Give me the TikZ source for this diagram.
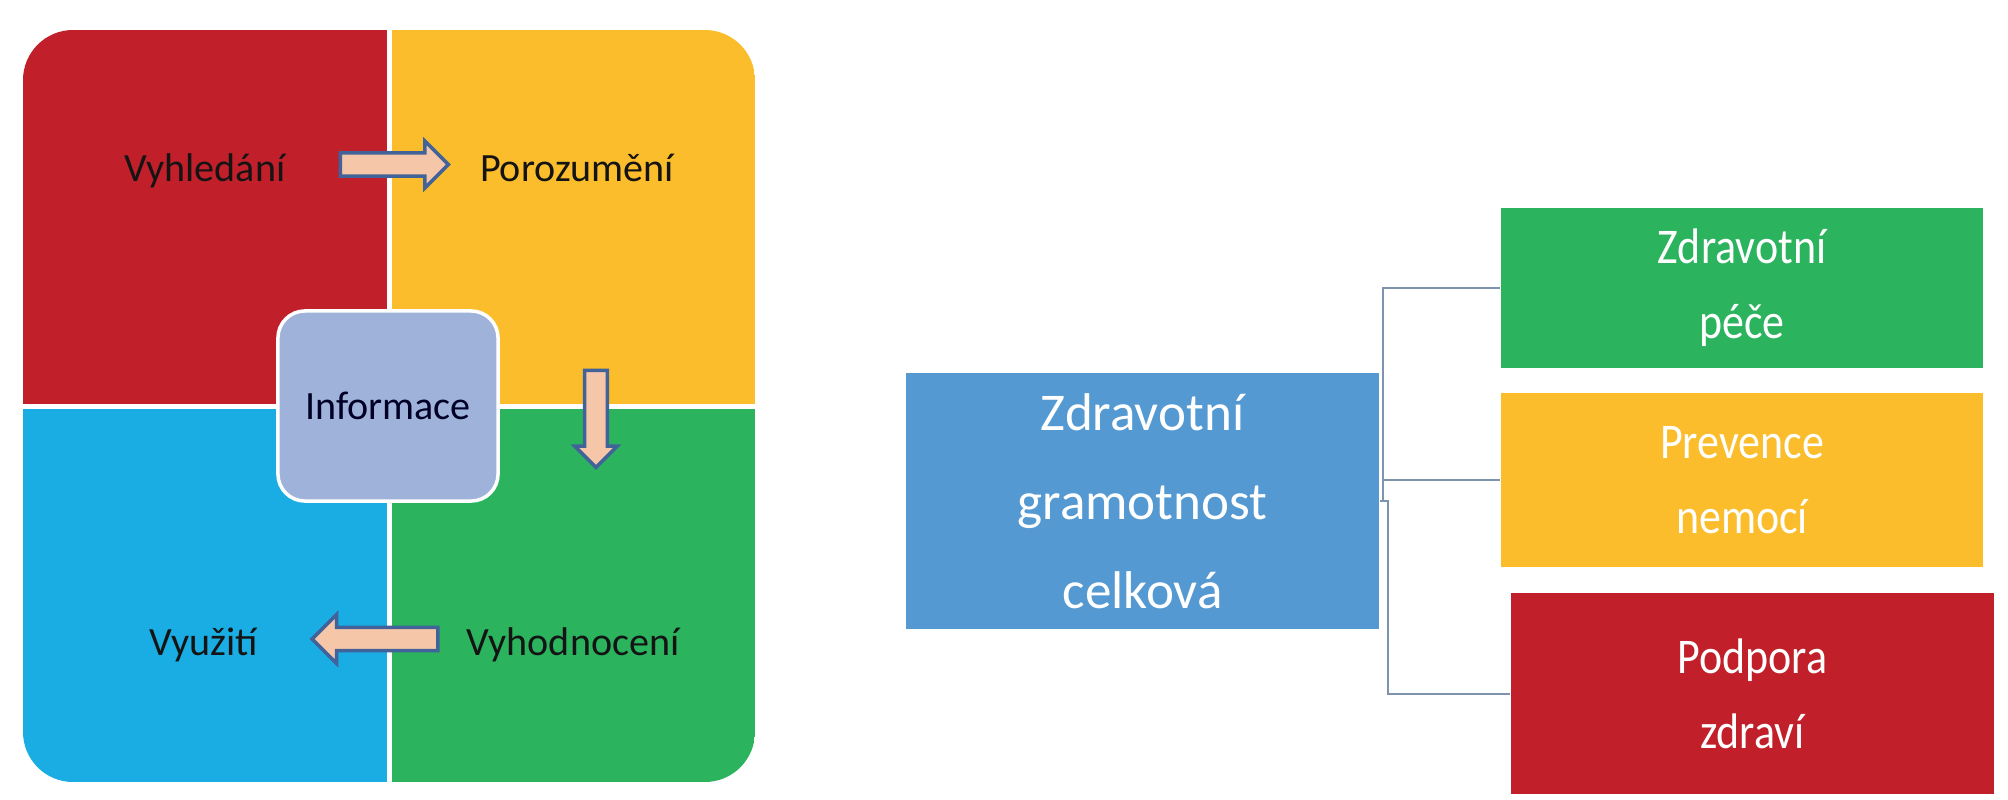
\documentclass[tikz,border=0pt]{standalone}
\usepackage{fontspec}
\setmainfont{Carlito}
\newfontfamily\narrowcal[FakeStretch=0.88]{Carlito}
\usetikzlibrary{shapes.arrows, positioning, calc}
\definecolor{quadred}{HTML}{C1202A}
\definecolor{quadyellow}{HTML}{FBBD2C}
\definecolor{quadblue}{HTML}{1AADE3}
\definecolor{quadgreen}{HTML}{2BB35E}
\definecolor{infoblue}{HTML}{9FB3DA}
\definecolor{rootblue}{HTML}{5499D1}
\definecolor{arrowedge}{HTML}{41639A}
\definecolor{arrowfill}{HTML}{F6C6A8}
\definecolor{linkgray}{HTML}{7D93AE}

\tikzset{
  quadtext/.style={anchor=base, text=black!92, inner sep=0pt, font=\fontsize{11.4pt}{13pt}\selectfont},
  blockarrow/.style={single arrow, draw=arrowedge, fill=arrowfill, line width=0.035cm, inner xsep=0pt, inner ysep=0.0975cm, minimum width=0pt, single arrow head extend=0.12cm, anchor=tail},
  childbox/.style={fill=#1, text=white, minimum width=4.82cm, align=center, inner sep=0pt, font=\narrowcal\fontsize{14.2pt}{21.3pt}\selectfont},
  link/.style={draw=linkgray, line width=0.02cm}
}

\begin{document}
\begin{tikzpicture}[x=0.01cm, y=-0.01cm]
    \useasboundingbox (0,0) rectangle (2008,800);
    % left: the four quadrants
    \begin{scope}
      \clip[rounded corners=0.5cm] (23,30) rectangle (755,782);
      \foreach \x/\y/\col in {23/30/quadred, 389/30/quadyellow, 23/406/quadblue, 389/406/quadgreen} {
        \fill[\col] (\x,\y) rectangle ++(366,376);
      }
    \end{scope}
    \draw[white, line width=0.05cm] (389,30) -- (389,782) (23,406) -- (755,406);

    \node[quadtext] (vyhledani) at (205,181) {Vyhledání};
    \node[quadtext] (porozumeni) at (577,181) {Porozumění};
    \node[quadtext] (vyuziti) at (204,655) {Využití};
    \node[quadtext] (vyhodnoceni) at (573,655) {Vyhodnocení};
    \node[fill=infoblue, draw=white, line width=0.035cm, rounded corners=0.27cm, minimum width=2.2cm, minimum height=1.9cm, text=black!85!blue, font=\fontsize{11.4pt}{13pt}\selectfont] (informace) at (388,406) {Informace};

    \node[blockarrow, minimum height=1.08cm] (arrowa) at (338.5,164.5) {};
    \node[blockarrow, minimum height=0.97cm, shape border rotate=270, inner xsep=0.095cm, inner ysep=0pt, single arrow head extend=0.1cm] (arrowb) at (596,368.5) {};
    \node[blockarrow, minimum height=1.255cm, shape border rotate=180, single arrow head extend=0.13cm] (arrowc) at (439.5,639) {};

    % right: the tree
    \node[fill=rootblue, text=white, minimum width=4.73cm, minimum height=2.56cm, align=center, inner sep=0pt, font=\fontsize{15.1pt}{25.3pt}\selectfont] (gramotnost) at (1142.5,501) {Zdravotní\\gramotnost\\celková};
    \node[childbox=quadgreen, minimum height=1.6cm] (pece) at (1742,288) {Zdravotní\\péče};
    \node[childbox=quadyellow, minimum height=1.74cm] (prevence) at (1742,480) {Prevence\\nemocí};
    \node[childbox=quadred, minimum width=4.83cm, minimum height=2.01cm] (podpora) at (1752.5,693.5) {Podpora\\zdraví};

    \coordinate (split) at ([xshift=0.03cm]gramotnost.east);
    \draw[link] (gramotnost.east) -- (split) |- (pece.west);
    \draw[link] (split) |- (prevence.west);
    \draw[link] (split) -- ++(5,0) |- (podpora.west);
\end{tikzpicture}
\end{document}
